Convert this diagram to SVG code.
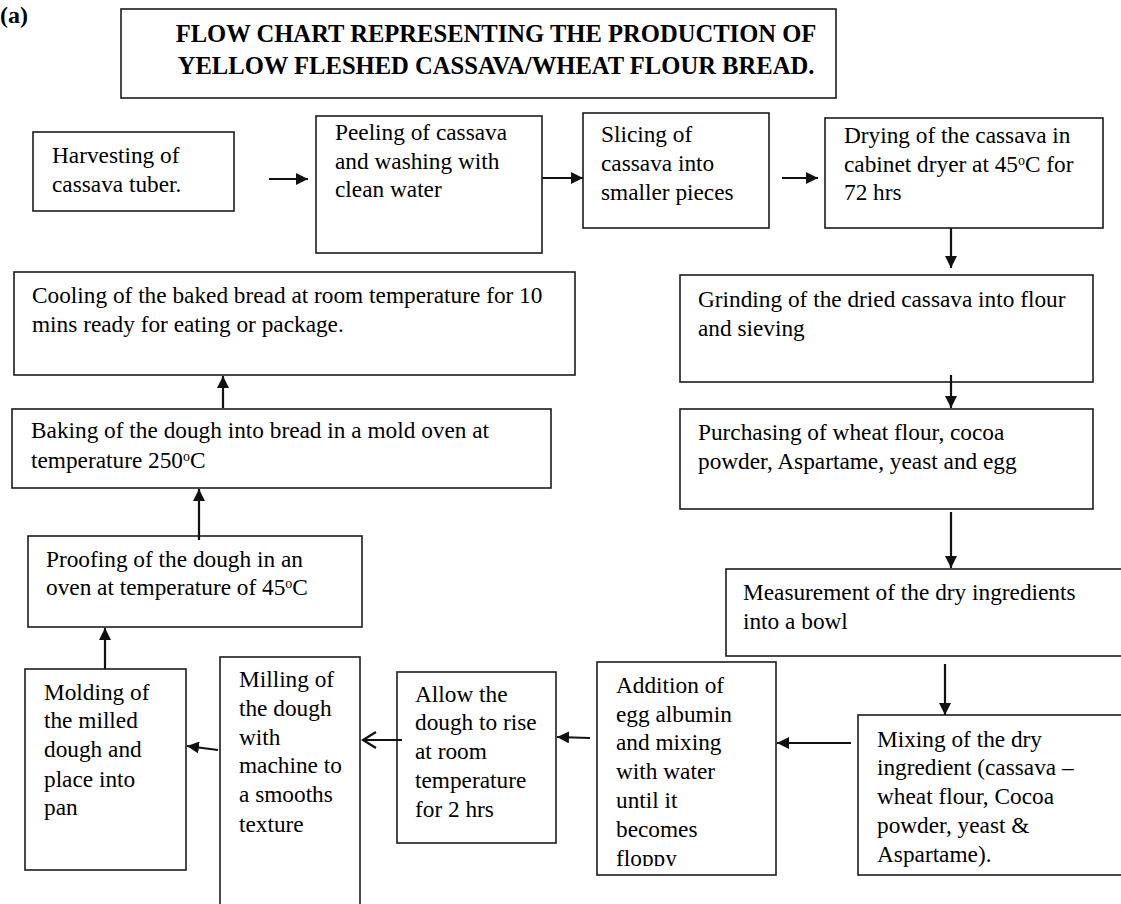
<svg xmlns="http://www.w3.org/2000/svg" width="1121" height="904" viewBox="0 0 1121 904">
<style>
.bx{fill:#fff;stroke:#1c1c1c;stroke-width:1.6}
.t{font-family:"Liberation Serif","Times New Roman",serif;font-size:23.3px;fill:#000}
.tb{font-family:"Liberation Serif","Times New Roman",serif;font-size:24.6px;font-weight:bold;fill:#000}
.c{stroke:#111;stroke-width:2.2;fill:none}
.sup{font-size:14px}
</style>
<defs>
<marker id="ah" viewBox="0 0 12 12" refX="12" refY="6" markerWidth="12" markerHeight="12" markerUnits="userSpaceOnUse" orient="auto">
<path d="M0,0 L12,6 L0,12 z" fill="#111"/>
</marker>
<clipPath id="clipAdd"><rect x="597" y="662" width="179" height="204"/></clipPath>
</defs>
<rect width="1121" height="904" fill="#fff"/>
<text class="tb" x="0" y="23" style="font-size:24px">(a)</text>
<g id="title">
<rect class="bx" x="121" y="9" width="715" height="89"/>
<text class="tb" x="496" y="42" text-anchor="middle">FLOW CHART REPRESENTING THE PRODUCTION OF</text>
<text class="tb" x="496" y="74" text-anchor="middle">YELLOW FLESHED CASSAVA/WHEAT FLOUR BREAD.</text>
</g>
<g id="n1"><rect class="bx" x="33" y="132" width="201" height="79"/>
<text class="t"><tspan x="52" y="163">Harvesting of</tspan><tspan x="52" y="192">cassava tuber.</tspan></text></g>
<g id="n2"><rect class="bx" x="316" y="116" width="226" height="137"/>
<text class="t"><tspan x="335" y="140">Peeling of cassava</tspan><tspan x="335" y="169">and washing with</tspan><tspan x="335" y="197">clean water</tspan></text></g>
<g id="n3"><rect class="bx" x="583" y="113" width="186" height="115"/>
<text class="t"><tspan x="601" y="142">Slicing of</tspan><tspan x="601" y="171">cassava into</tspan><tspan x="601" y="200">smaller pieces</tspan></text></g>
<g id="n4"><rect class="bx" x="825" y="118" width="278" height="110"/>
<text class="t"><tspan x="844" y="143">Drying of the cassava in</tspan><tspan x="844" y="172">cabinet dryer at 45<tspan class="sup" baseline-shift="super">o</tspan>C for</tspan><tspan x="844" y="200">72 hrs</tspan></text></g>
<g id="n5"><rect class="bx" x="680" y="275" width="413" height="107"/>
<text class="t"><tspan x="698" y="307">Grinding of the dried cassava into flour</tspan><tspan x="698" y="336">and sieving</tspan></text></g>
<g id="n6"><rect class="bx" x="680" y="409" width="413" height="100"/>
<text class="t"><tspan x="698" y="440">Purchasing of wheat flour, cocoa</tspan><tspan x="698" y="469">powder, Aspartame, yeast and egg</tspan></text></g>
<g id="n7"><rect class="bx" x="726" y="569" width="400" height="87"/>
<text class="t"><tspan x="743" y="600">Measurement of the dry ingredients</tspan><tspan x="743" y="629">into a bowl</tspan></text></g>
<g id="n8"><rect class="bx" x="858" y="715" width="270" height="160"/>
<text class="t"><tspan x="877" y="747">Mixing of the dry</tspan><tspan x="877" y="775">ingredient (cassava –</tspan><tspan x="877" y="804">wheat flour, Cocoa</tspan><tspan x="877" y="833">powder, yeast &amp;</tspan><tspan x="877" y="862">Aspartame).</tspan></text></g>
<g id="n9"><rect class="bx" x="597" y="662" width="179" height="213"/>
<text class="t" clip-path="url(#clipAdd)"><tspan x="616" y="693">Addition of</tspan><tspan x="616" y="722">egg albumin</tspan><tspan x="616" y="750">and mixing</tspan><tspan x="616" y="779">with water</tspan><tspan x="616" y="808">until it</tspan><tspan x="616" y="837">becomes</tspan><tspan x="616" y="866">floppy</tspan></text></g>
<g id="n10"><rect class="bx" x="397" y="672" width="159" height="171"/>
<text class="t"><tspan x="415" y="702">Allow the</tspan><tspan x="415" y="730">dough to rise</tspan><tspan x="415" y="759">at room</tspan><tspan x="415" y="788">temperature</tspan><tspan x="415" y="817">for 2 hrs</tspan></text></g>
<g id="n11"><rect class="bx" x="220" y="657" width="140" height="260"/>
<text class="t"><tspan x="239" y="687">Milling of</tspan><tspan x="239" y="716">the dough</tspan><tspan x="239" y="745">with</tspan><tspan x="239" y="773">machine to</tspan><tspan x="239" y="802">a smooths</tspan><tspan x="239" y="832">texture</tspan></text></g>
<g id="n12"><rect class="bx" x="25" y="669" width="161" height="201"/>
<text class="t"><tspan x="44" y="700">Molding of</tspan><tspan x="44" y="728">the milled</tspan><tspan x="44" y="757">dough and</tspan><tspan x="44" y="787">place into</tspan><tspan x="44" y="815">pan</tspan></text></g>
<g id="n13"><rect class="bx" x="28" y="536" width="334" height="91"/>
<text class="t"><tspan x="46" y="567">Proofing of the dough in an</tspan><tspan x="46" y="595">oven at temperature of 45<tspan class="sup" baseline-shift="super">o</tspan>C</tspan></text></g>
<g id="n14"><rect class="bx" x="12" y="409" width="539" height="79"/>
<text class="t"><tspan x="31" y="438">Baking of the dough into bread in a mold oven at</tspan><tspan x="31" y="468">temperature 250<tspan class="sup" baseline-shift="super">o</tspan>C</tspan></text></g>
<g id="n15"><rect class="bx" x="14" y="272" width="561" height="103"/>
<text class="t"><tspan x="32" y="303">Cooling of the baked bread at room temperature for 10</tspan><tspan x="32" y="332">mins ready for eating or package.</tspan></text></g>
<g id="connectors">
<line class="c" x1="269" y1="179" x2="308" y2="179" marker-end="url(#ah)"/>
<line class="c" x1="542" y1="178" x2="583" y2="178" marker-end="url(#ah)"/>
<line class="c" x1="782" y1="178" x2="818" y2="178" marker-end="url(#ah)"/>
<line class="c" x1="951" y1="228" x2="951" y2="268" marker-end="url(#ah)"/>
<line class="c" x1="951" y1="375" x2="951" y2="408" marker-end="url(#ah)"/>
<line class="c" x1="951" y1="512" x2="951" y2="568" marker-end="url(#ah)"/>
<line class="c" x1="945" y1="664" x2="945" y2="715" marker-end="url(#ah)"/>
<line class="c" x1="851" y1="743" x2="777" y2="743" marker-end="url(#ah)"/>
<line class="c" x1="590" y1="738" x2="557" y2="737" marker-end="url(#ah)"/>
<line class="c" x1="402" y1="740" x2="363" y2="740"/>
<polyline class="c" points="376,732 363,740 376,748"/>
<line class="c" x1="218" y1="750" x2="187" y2="746" marker-end="url(#ah)"/>
<line class="c" x1="105" y1="669" x2="105" y2="628" marker-end="url(#ah)"/>
<line class="c" x1="199" y1="540" x2="199" y2="489" marker-end="url(#ah)"/>
<line class="c" x1="223" y1="408" x2="223" y2="376" marker-end="url(#ah)"/>
</g>
</svg>
